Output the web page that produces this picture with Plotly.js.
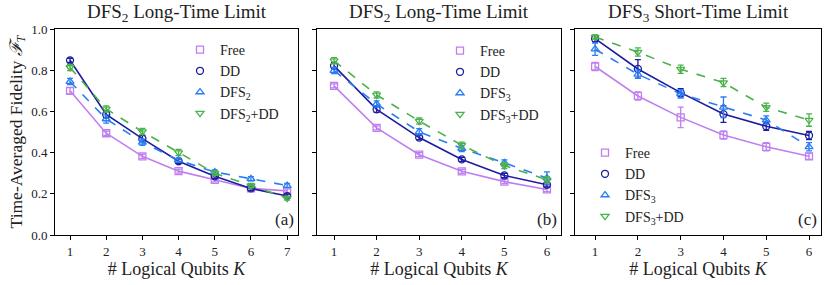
<!DOCTYPE html>
<html><head><meta charset="utf-8">
<script src="https://cdn.plot.ly/plotly-3.0.1.min.js"></script>
<style>html,body{margin:0;padding:0;background:#fff}#chart{width:830px;height:285px}</style>
</head><body><div id="chart"></div>
<script>
// ---- data ----
const kA = [1,2,3,4,5,6,7];
const kB = [1,2,3,4,5,6];
const kC = [1,2,3,4,5,6];

const freeA = [0.700,0.494,0.382,0.310,0.268,0.226,0.214];
const ddA   = [0.848,0.585,0.468,0.358,0.285,0.226,0.189];
const dfsA  = [0.745,0.563,0.450,0.363,0.306,0.273,0.240];
const dfsddA= [0.813,0.612,0.502,0.400,0.300,0.240,0.179];
const freeAErr = [0.015,0.010,0.010,0.010,0.010,0.010,0.010];
const ddAErr   = [0.010,0.015,0.015,0.010,0.010,0.010,0.010];
const dfsAErr  = [0.015,0.020,0.015,0.010,0.010,0.010,0.010];
const dfsddAErr= [0.015,0.015,0.015,0.015,0.010,0.010,0.010];

const freeB = [0.724,0.520,0.390,0.309,0.259,0.221];
const ddB   = [0.821,0.610,0.473,0.367,0.289,0.244];
const dfsB  = [0.798,0.636,0.501,0.420,0.350,0.276];
const dfsddB= [0.846,0.680,0.553,0.436,0.337,0.268];
const freeBErr = [0.010,0.010,0.010,0.010,0.010,0.010];
const ddBErr   = [0.015,0.015,0.010,0.010,0.010,0.010];
const dfsBErr  = [0.015,0.015,0.015,0.015,0.015,0.030];
const dfsddBErr= [0.015,0.015,0.015,0.015,0.015,0.015];

const freeC = [0.818,0.675,0.571,0.485,0.428,0.382];
const ddC   = [0.953,0.806,0.691,0.587,0.528,0.483];
const dfsC  = [0.902,0.780,0.685,0.620,0.558,0.428];
const dfsddC= [0.961,0.888,0.805,0.740,0.620,0.558];
const freeCErr = [0.020,0.020,0.050,0.020,0.020,0.015];
const ddCErr   = [0.015,0.045,0.020,0.040,0.020,0.020];
const dfsCErr  = [0.030,0.020,0.020,0.050,0.020,0.020];
const dfsddCErr= [0.010,0.020,0.020,0.020,0.020,0.030];

const seriesNames = {
  A: ['Free','DD','DFS<sub>2</sub>','DFS<sub>2</sub>+DD'],
  B: ['Free','DD','DFS<sub>3</sub>','DFS<sub>3</sub>+DD'],
  C: ['Free','DD','DFS<sub>3</sub>','DFS<sub>3</sub>+DD']
};
const panelTitles = ['DFS<sub>2</sub> Long-Time Limit','DFS<sub>2</sub> Long-Time Limit','DFS<sub>3</sub> Short-Time Limit'];
const panelLabels = ['(a)','(b)','(c)'];
const yTicks = [0,0.2,0.4,0.6,0.8,1.0];
const yTickText = ['0.0','0.2','0.4','0.6','0.8','1.0'];

// ---- styles ----
const colors = ['#c07ff0','#1c1ca0','#2a7df5','#4cb24c'];
const symbols = ['square-open','circle-open','triangle-up-open','triangle-down-open'];
const dashes = ['solid','solid','dash','dash'];
const FONT = 'Liberation Serif';

const traces = [];
function addPanel(idx, xs, ys, errs, names){
  const ax = idx===0 ? '' : String(idx+1);
  const lg = idx===0 ? 'legend' : 'legend'+(idx+1);
  ys.forEach((y,i)=>{
    traces.push({
      type:'scatter', mode:'lines+markers', x:xs, y:y,
      xaxis:'x'+ax, yaxis:'y'+ax, showlegend:false,
      line:{color:colors[i], width:1.6, dash:dashes[i]},
      marker:{symbol:symbols[i], size:7, color:colors[i], line:{width:1.3, color:colors[i]}},
      error_y:{type:'data', array:errs[i], visible:true, color:colors[i], thickness:1.3, width:3}
    });
  });
  ys.forEach((y,i)=>{
    traces.push({
      type:'scatter', mode:'markers', x:[null], y:[null],
      xaxis:'x'+ax, yaxis:'y'+ax, name:names[i], legend:lg, showlegend:true,
      marker:{symbol:symbols[i], size:7, color:colors[i], line:{width:1.3, color:colors[i]}}
    });
  });
}
addPanel(0, kA, [freeA,ddA,dfsA,dfsddA], [freeAErr,ddAErr,dfsAErr,dfsddAErr], seriesNames.A);
addPanel(1, kB, [freeB,ddB,dfsB,dfsddB], [freeBErr,ddBErr,dfsBErr,dfsddBErr], seriesNames.B);
addPanel(2, kC, [freeC,ddC,dfsC,dfsddC], [freeCErr,ddCErr,dfsCErr,dfsddCErr], seriesNames.C);

const W=830, H=285;
const yDom = [1-235/H, 1-29/H];
const xDoms = [[55/W,298/W],[317/W,561/W],[575/W,821/W]];
const xRanges = [[0.585,7.30],[0.60,6.33],[0.53,6.28]];
const xTickVals = [kA,kB,kC];

const baseAxis = {
  showline:true, linecolor:'#000', linewidth:1, mirror:true,
  ticks:'outside', ticklen:4, tickwidth:1, tickcolor:'#000',
  showgrid:false, zeroline:false, tickfont:{family:FONT, size:13, color:'#222'}
};
const layout = {
  width:W, height:H, margin:{l:0,r:0,t:0,b:0},
  paper_bgcolor:'#fff', plot_bgcolor:'#fff',
  font:{family:FONT, color:'#222'},
  annotations:[]
};
const legendPos = [[180/W,1-34/H],[440/W,1-35/H],[585/W,1-137/H]];
for(let p=0;p<3;p++){
  const ax = p===0 ? '' : String(p+1);
  layout['xaxis'+ax] = Object.assign({}, baseAxis, {
    domain:xDoms[p], range:xRanges[p], anchor:'y'+ax,
    tickmode:'array', tickvals:xTickVals[p], ticktext:xTickVals[p].map(String),
    title:{text:'# Logical Qubits <i>K</i>', font:{family:FONT, size:18, color:'#222'}, standoff:2}
  });
  layout['yaxis'+ax] = Object.assign({}, baseAxis, {
    domain:yDom, range:[0,1], anchor:'x'+ax,
    tickmode:'array', tickvals:yTicks, ticktext:yTickText, showticklabels:p===0
  });
  if(p===0){
    layout.yaxis.title = {text:'Time-Averaged Fidelity <i>ℱ<sub>T</sub></i>', font:{family:FONT, size:17.5, color:'#222'}, standoff:4};
  }
  const lg = p===0 ? 'legend' : 'legend'+(p+1);
  layout[lg] = {x:legendPos[p][0], y:legendPos[p][1], xanchor:'left', yanchor:'top',
    bgcolor:'rgba(0,0,0,0)', borderwidth:0, font:{family:FONT, size:14, color:'#222'},
    tracegroupgap:0, itemwidth:30};
  layout.annotations.push({
    text:panelTitles[p], xref:'paper', yref:'paper',
    x:(xDoms[p][0]+xDoms[p][1])/2, y:1-13/H, xanchor:'center', yanchor:'middle',
    showarrow:false, font:{family:FONT, size:19, color:'#222'}
  });
  layout.annotations.push({
    text:panelLabels[p], xref:'x'+ax+' domain', yref:'y'+ax+' domain',
    x:0.99, y:0.02, xanchor:'right', yanchor:'bottom',
    showarrow:false, font:{family:FONT, size:17, color:'#222'}
  });
}
Plotly.newPlot('chart', traces, layout, {displayModeBar:false, staticPlot:true});
</script></body></html>
